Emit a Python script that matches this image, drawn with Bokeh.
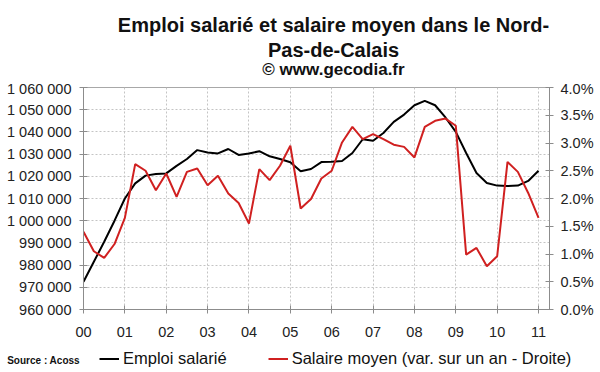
from bokeh.plotting import figure
from bokeh.layouts import column
from bokeh.models import LinearAxis, Range1d, FixedTicker, Label, Legend, LegendItem
from bokeh.embed import file_html
from bokeh.resources import INLINE

# ---- data (quarterly, 2000 Q1 .. 2011 Q1) ----
emploi = [972500, 981500, 990500, 1000000, 1010000, 1016800, 1020300, 1021000,
          1021300, 1024700, 1027800, 1031800, 1030700, 1030300, 1032300, 1029600,
          1030300, 1031300, 1029000, 1027800, 1026300, 1022300, 1023300, 1026400,
          1026500, 1026900, 1030500, 1036700, 1036000, 1039500, 1044500, 1047800,
          1052000, 1054000, 1052000, 1046500, 1040000, 1030500, 1021500, 1017000,
          1015800, 1015600, 1015800, 1017900, 1022500]
salaire = [1.40, 1.05, 0.93, 1.18, 1.65, 2.62, 2.50, 2.15,
           2.45, 2.03, 2.48, 2.54, 2.24, 2.41, 2.09, 1.92,
           1.55, 2.53, 2.33, 2.59, 2.95, 1.82, 1.99, 2.36,
           2.50, 3.01, 3.29, 3.07, 3.16, 3.07, 2.97, 2.93,
           2.74, 3.29, 3.40, 3.44, 3.31, 0.99, 1.11, 0.78,
           0.96, 2.66, 2.48, 2.10, 1.65]
start_year = 2000
quarter_pos = [start_year + i / 4 for i in range(len(emploi))]

year_ticks = list(range(2000, 2012))
year_labels = ["00", "01", "02", "03", "04", "05", "06", "07", "08", "09", "10", "11"]
left_ticks = list(range(960000, 1070000, 10000))
left_labels = ["960 000", "970 000", "980 000", "990 000", "1 000 000", "1 010 000",
               "1 020 000", "1 030 000", "1 040 000", "1 050 000", "1 060 000"]
right_ticks = [0, 0.5, 1, 1.5, 2, 2.5, 3, 3.5, 4]
right_labels = ["0.0%", "0.5%", "1.0%", "1.5%", "2.0%", "2.5%", "3.0%", "3.5%", "4.0%"]

title_lines = ["Emploi salarié et salaire moyen dans le Nord-", "Pas-de-Calais", "© www.gecodia.fr"]
series_names = ["Emploi salarié", "Salaire moyen (var. sur un an - Droite)"]
source_text = "Source : Acoss"

FONT = "Liberation Sans"
TXT = "#222222"
AX = "#8c8c8c"
RED = "#d02020"
W = 600


def blank_fig(h):
    f = figure(width=W, height=h, output_backend="svg", toolbar_location=None,
               title=None, x_axis_type=None, y_axis_type=None,
               x_range=Range1d(0, 1), y_range=Range1d(0, 1),
               min_border=0, min_border_left=0, min_border_right=0,
               min_border_top=0, min_border_bottom=0, frame_align=False)
    f.outline_line_color = None
    f.grid.visible = False
    return f


# ---------- title block ----------
top = blank_fig(80)
for txt, y, size in [(title_lines[0], 55.5, "20px"),
                     (title_lines[1], 31.0, "20px"),
                     (title_lines[2], 11.0, "17px")]:
    top.add_layout(Label(x=333, y=y, x_units="screen", y_units="screen", text=txt,
                         text_align="center", text_baseline="alphabetic",
                         text_font=FONT, text_font_size=size, text_font_style="bold",
                         text_color="#111111"))

# ---------- main chart ----------
p = figure(width=W, height=260, output_backend="svg", toolbar_location=None, title=None,
           x_range=Range1d(2000, 2011.265), y_range=Range1d(960000, 1060000),
           min_border_left=83, min_border_right=51, min_border_top=7, min_border_bottom=31,
           frame_align=False)
p.extra_y_ranges = {"pct": Range1d(0, 4)}
p.outline_line_color = "#a8a8a8"


def style_axis(ax, standoff):
    ax.axis_line_color = AX
    ax.major_tick_line_color = AX
    ax.minor_tick_line_color = None
    ax.major_tick_in = 4
    ax.major_tick_out = 4
    ax.major_label_text_font = FONT
    ax.major_label_text_font_size = "14.5px"
    ax.major_label_text_color = TXT
    ax.major_label_standoff = standoff


p.xaxis.ticker = FixedTicker(ticks=year_ticks)
p.xaxis.major_label_overrides = dict(zip(year_ticks, year_labels))
style_axis(p.xaxis[0], 13)

p.yaxis.ticker = FixedTicker(ticks=left_ticks)
p.yaxis.major_label_overrides = dict(zip(left_ticks, left_labels))
style_axis(p.yaxis[0], 8)

rax = LinearAxis(y_range_name="pct", ticker=FixedTicker(ticks=right_ticks),
                 major_label_overrides=dict(zip(right_ticks, right_labels)))
style_axis(rax, 7)
p.add_layout(rax, "right")

for g in (p.xgrid, p.ygrid):
    g.grid_line_color = "#c4c4c4"
    g.grid_line_dash = "2 2"
    g.grid_line_width = 1

p.line(quarter_pos, emploi, line_color="black", line_width=2)
p.line(quarter_pos, salaire, line_color=RED, line_width=2, y_range_name="pct")

# ---------- legend / source block ----------
bot = blank_fig(32)
# same series, drawn out of this strip's view: only their legend samples show
k1 = bot.line(quarter_pos, emploi, line_color="black", line_width=2)
k2 = bot.line(quarter_pos, salaire, line_color=RED, line_width=2)
legend = Legend(items=[LegendItem(label=series_names[0], renderers=[k1]),
                       LegendItem(label=series_names[1], renderers=[k2])],
                location=(99, 4), orientation="horizontal",
                glyph_width=20, glyph_height=19, label_height=19, label_standoff=4, spacing=41,
                padding=0, margin=0, border_line_color=None, background_fill_alpha=0,
                label_text_font=FONT, label_text_font_size="16.5px",
                label_text_color="#111111")
bot.add_layout(legend)
bot.add_layout(Label(x=6.7, y=12.5, x_units="screen", y_units="screen", text=source_text,
                     text_align="left", text_baseline="alphabetic",
                     text_font=FONT, text_font_size="10px", text_font_style="bold",
                     text_color="#111111"))

layout = column(top, p, bot, spacing=0)
open("out.html", "w").write(file_html(layout, INLINE))
